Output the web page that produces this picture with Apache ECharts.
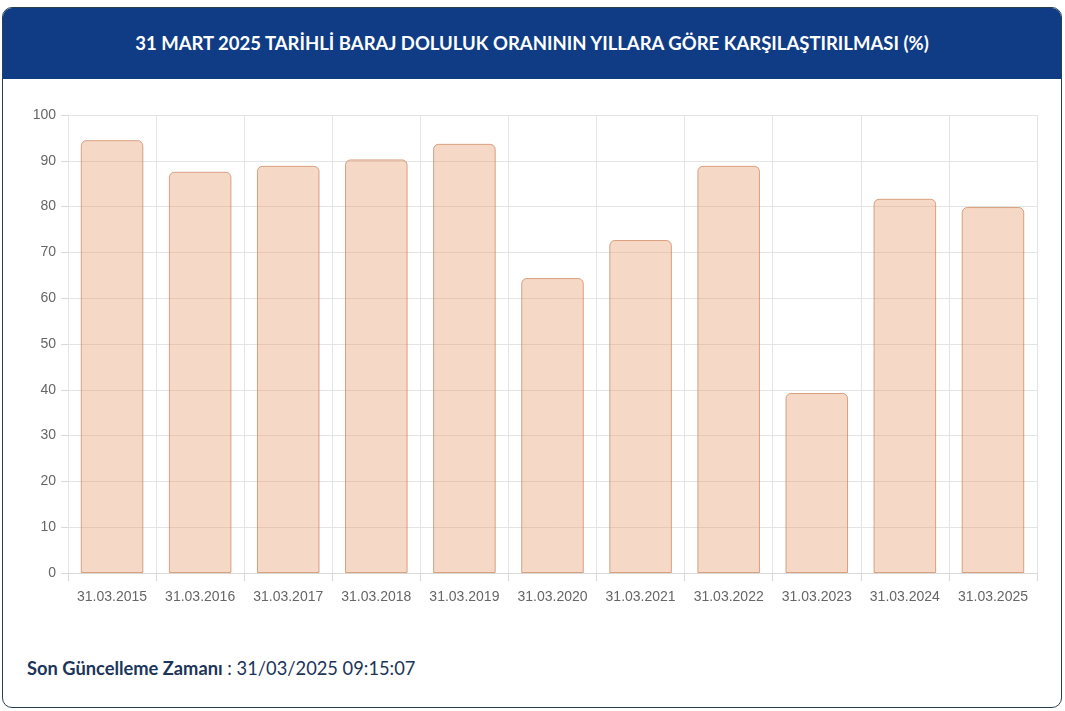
<!DOCTYPE html>
<html>
<head>
<meta charset="utf-8">
<script src="https://cdn.jsdelivr.net/npm/echarts@6/dist/echarts.min.js"></script>
<style>
  html, body { margin: 0; padding: 0; background: #fff; width: 1065px; height: 711px; overflow: hidden; }
  #card { position: absolute; left: 2px; top: 7px; width: 1058px; height: 699px; border: 1px solid #2b3f4e; border-radius: 10px; overflow: hidden; background: #fff; }
  #header { position: absolute; left: 0; top: 0; width: 100%; height: 71px; background: #0f3c85; color: #fff;
    font-family: "Lato", "Inter", sans-serif; font-weight: 700; font-size: 18.5px; line-height: 71px; text-align: center; }
  #chart { position: absolute; left: 0; top: 71px; width: 1058px; height: 550px; }
  #footer { position: absolute; left: 24px; top: 649px; font-family: "Lato", "Inter", sans-serif; font-size: 18.3px; color: #1c3559; }
  #footer b { font-weight: 700; }
</style>
</head>
<body>
<div id="card">
  <div id="header">31 MART 2025 TARİHLİ BARAJ DOLULUK ORANININ YILLARA GÖRE KARŞILAŞTIRILMASI (%)</div>
  <div id="chart"></div>
  <div id="footer"><b>Son Güncelleme Zamanı</b> : 31/03/2025 09:15:07</div>
</div>
<script>
const categories = ["31.03.2015","31.03.2016","31.03.2017","31.03.2018","31.03.2019","31.03.2020","31.03.2021","31.03.2022","31.03.2023","31.03.2024","31.03.2025"];
const values = [94.5, 87.6, 88.9, 90.3, 93.7, 64.4, 72.7, 88.9, 39.3, 81.7, 79.9];
const yTicks = [0, 10, 20, 30, 40, 50, 60, 70, 80, 90, 100];

const chart = echarts.init(document.getElementById('chart'), null, { renderer: 'canvas' });
chart.setOption({
  animation: false,
  grid: { left: 65, right: 24, top: 36, bottom: 56, containLabel: false },
  xAxis: {
    type: 'category',
    data: categories,
    boundaryGap: true,
    axisLine: { show: true, lineStyle: { color: '#d9d9d9' } },
    axisTick: { show: true, interval: 0, length: 8, lineStyle: { color: '#d9d9d9' } },
    axisLabel: { interval: 0, color: '#666', fontFamily: 'Liberation Sans, Arial, sans-serif', fontSize: 14, margin: 17 },
    splitLine: { show: true, interval: 0, lineStyle: { color: '#e4e4e4' } }
  },
  yAxis: {
    type: 'value',
    min: yTicks[0],
    max: yTicks[yTicks.length - 1],
    interval: 10,
    axisLine: { show: true, lineStyle: { color: '#e4e4e4' } },
    axisTick: { show: true, length: 7, lineStyle: { color: '#d9d9d9' } },
    axisLabel: { color: '#666', fontFamily: 'Liberation Sans, Arial, sans-serif', fontSize: 14, margin: 12 },
    splitLine: { show: true, lineStyle: { color: '#e4e4e4' } }
  },
  series: [{
    type: 'bar',
    data: values,
    barCategoryGap: '29%',
    itemStyle: {
      color: 'rgba(232,163,120,0.42)',
      borderColor: 'rgba(205,135,95,0.75)',
      borderWidth: 1,
      borderRadius: [5, 5, 0, 0]
    }
  }]
});
</script>
</body>
</html>
